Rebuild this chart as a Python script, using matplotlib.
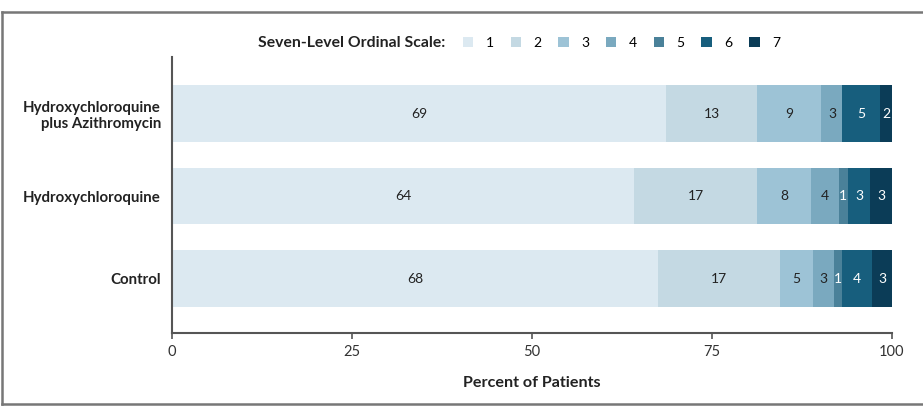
import matplotlib.pyplot as plt
from matplotlib.lines import Line2D
from matplotlib.patches import Patch

plt.rcParams['font.family'] = ['Lato', 'DejaVu Sans']

# Groups, bottom to top
groups = ["Control", "Hydroxychloroquine", "Hydroxychloroquine\nplus Azithromycin"]
levels = ["1", "2", "3", "4", "5", "6", "7"]

# Segment widths (percent), per group
control_vals = [67.5, 16.9, 4.6, 2.9, 1.1, 4.2, 2.8]
hcq_vals = [64.2, 17.1, 7.4, 3.9, 1.25, 3.1, 3.05]
hcq_azi_vals = [68.6, 12.7, 8.9, 2.9, 0.0, 5.2, 1.7]

# Printed labels in the bars
control_labels = ["68", "17", "5", "3", "1", "4", "3"]
hcq_labels = ["64", "17", "8", "4", "1", "3", "3"]
hcq_azi_labels = ["69", "13", "9", "3", "", "5", "2"]

values = [control_vals, hcq_vals, hcq_azi_vals]
labels = [control_labels, hcq_labels, hcq_azi_labels]

colors = ["#dce9f1", "#c4d9e3", "#9dc3d6", "#7aa9bf", "#4a8199", "#175e7d", "#0b3c57"]
text_colors = ["#222222", "#222222", "#222222", "#222222", "white", "white", "white"]

fig = plt.figure(figsize=(9.23, 4.07), dpi=100)
ax = fig.add_axes([172 / 923, 1 - 333 / 407, 720 / 923, 276 / 407])

for gi, (vals, labs) in enumerate(zip(values, labels)):
    left = 0.0
    for li, (v, lab) in enumerate(zip(vals, labs)):
        if v > 0:
            ax.barh(gi, v, left=left, height=0.69, color=colors[li], edgecolor="none")
            if lab:
                ax.text(left + v / 2, gi, lab, ha="center", va="center",
                        fontsize=10, color=text_colors[li])
        left += v

ax.set_xlim(0, 100)
ax.set_ylim(-0.66, 2.685)
ax.set_yticks(range(len(groups)))
ax.set_yticklabels(groups, fontsize=10.8, fontweight="bold", color="#222222")
ax.tick_params(axis="y", length=0, pad=8)
ax.set_xticks([0, 25, 50, 75, 100])
ax.tick_params(axis="x", length=4, width=1.2, color="#555555", labelsize=10.5,
               labelcolor="#333333", pad=5)
for s in ["top", "right"]:
    ax.spines[s].set_visible(False)
for s in ["left", "bottom"]:
    ax.spines[s].set_color("#555555")
    ax.spines[s].set_linewidth(1.5)
ax.set_xlabel("Percent of Patients", fontsize=11.6, fontweight="bold",
              color="#222222", labelpad=12)

# legend
fig.text(445 / 923, 1 - 43 / 407, "Seven-Level Ordinal Scale:", ha="right", va="center",
         fontsize=11.3, fontweight="bold", color="#222222")
handles = [Patch(facecolor=c, edgecolor="none") for c in colors]
fig.legend(handles, levels, loc="center left", bbox_to_anchor=(463 / 923, 1 - 43 / 407),
           ncol=7, frameon=False, fontsize=10, handlelength=0.75, handleheight=0.75,
           handletextpad=0.9, columnspacing=1.2, borderaxespad=0, borderpad=0)

# outer frame
fc = "#777777"
fig.add_artist(Line2D([2 / 923, 923 / 923], [1 - 12 / 407] * 2, color=fc, lw=1.8,
                      transform=fig.transFigure))
fig.add_artist(Line2D([2 / 923] * 2, [1 - 12 / 407, 1 - 404 / 407], color=fc, lw=1.8,
                      transform=fig.transFigure))
fig.add_artist(Line2D([2 / 923, 923 / 923], [1 - 404 / 407] * 2, color=fc, lw=1.8,
                      transform=fig.transFigure))

fig.savefig("out.png", dpi=100)
